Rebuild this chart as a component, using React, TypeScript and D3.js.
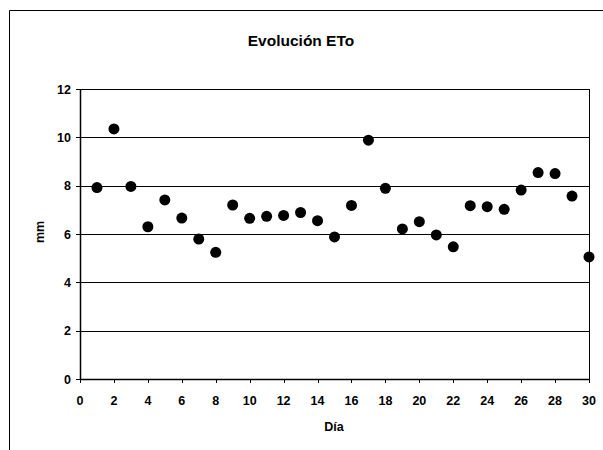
import React from "react";
import * as d3 from "d3";

const days = [1,2,3,4,5,6,7,8,9,10,11,12,13,14,15,16,17,18,19,20,21,22,23,24,25,26,27,28,29,30];
const eto = [7.92,10.35,7.97,6.3,7.41,6.66,5.79,5.24,7.2,6.65,6.73,6.77,6.89,6.55,5.88,7.18,9.88,7.89,6.21,6.51,5.96,5.47,7.17,7.13,7.02,7.82,8.54,8.5,7.57,5.05];
const xTicks = [0,2,4,6,8,10,12,14,16,18,20,22,24,26,28,30];
const yTicks = [0,2,4,6,8,10,12];
const title = "Evolución ETo";
const xLabel = "Día";
const yLabel = "mm";

export default function App() {
  const W = 603, H = 450;
  const left = 80, right = 589, top = 89, bottom = 379;
  const x = d3.scaleLinear().domain([0, 30]).range([left, right]);
  const y = d3.scaleLinear().domain([0, 12]).range([bottom, top]);
  const font = "Arial, 'Liberation Sans', sans-serif";
  const fs = 12.5;
  return (
    <div style={{ position: "fixed", left: 0, top: 0 }}>
      <svg width={W} height={H} style={{ display: "block", background: "#fff" }}>
        <rect x={0} y={0} width={W} height={H} fill="#fff" />
        <line x1={9.5} y1={10.5} x2={W} y2={10.5} stroke="#000" strokeWidth={1} />
        <line x1={9.5} y1={10.5} x2={9.5} y2={H} stroke="#000" strokeWidth={1} />
        <text x={301} y={46} textAnchor="middle" fontFamily={font} fontWeight="bold" fontSize={15.5} fill="#000">{title}</text>
        {yTicks.filter(t => t > 0).map(t => (
          <line key={"g" + t} x1={left} x2={right} y1={Math.round(y(t)) + 0.5} y2={Math.round(y(t)) + 0.5} stroke="#000" strokeWidth={1} />
        ))}
        <line x1={right + 0.5} x2={right + 0.5} y1={top} y2={bottom} stroke="#000" strokeWidth={1} />
        <line x1={left + 0.5} x2={left + 0.5} y1={top} y2={bottom + 0.5} stroke="#000" strokeWidth={1.5} />
        <line x1={left} x2={right + 1} y1={bottom + 0.5} y2={bottom + 0.5} stroke="#000" strokeWidth={1.5} />
        {yTicks.map(t => (
          <g key={"y" + t}>
            <line x1={left - 4} x2={left} y1={Math.round(y(t)) + 0.5} y2={Math.round(y(t)) + 0.5} stroke="#000" />
            <text x={71} y={y(t) + 4.5} textAnchor="end" fontFamily={font} fontWeight="bold" fontSize={fs} fill="#000">{t}</text>
          </g>
        ))}
        {xTicks.map(t => (
          <g key={"x" + t}>
            <line x1={Math.round(x(t)) + 0.5} x2={Math.round(x(t)) + 0.5} y1={bottom} y2={bottom + 4} stroke="#000" />
            <text x={x(t)} y={405} textAnchor="middle" fontFamily={font} fontWeight="bold" fontSize={fs} fill="#000">{t}</text>
          </g>
        ))}
        <text x={334} y={431} textAnchor="middle" fontFamily={font} fontWeight="bold" fontSize={fs} fill="#000">{xLabel}</text>
        <text transform={`translate(44,${232}) rotate(-90)`} textAnchor="middle" fontFamily={font} fontWeight="bold" fontSize={fs} fill="#000">{yLabel}</text>
        {days.map((d, i) => (
          <circle key={"p" + d} cx={x(d)} cy={y(eto[i])} r={5.5} fill="#000" />
        ))}
      </svg>
    </div>
  );
}
